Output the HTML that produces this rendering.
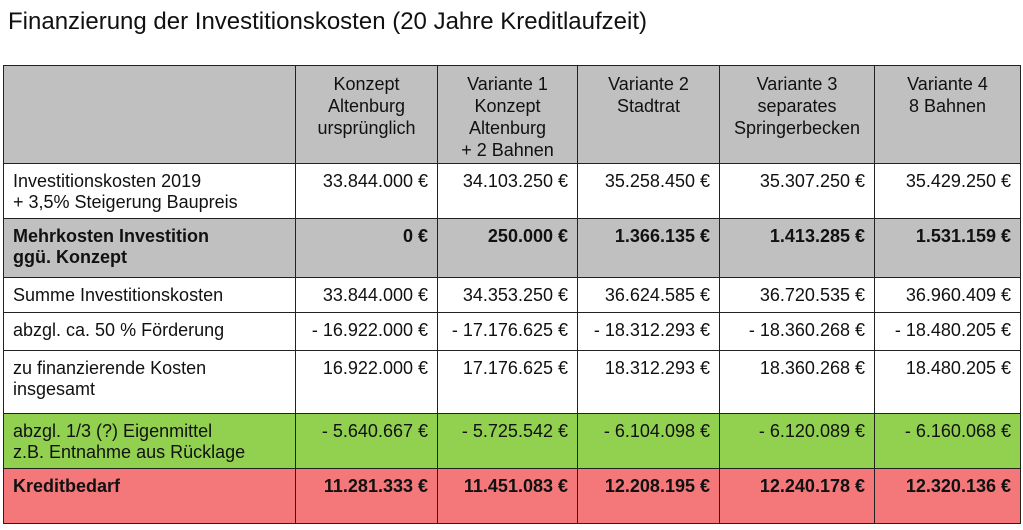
<!DOCTYPE html>
<html><head><meta charset="utf-8"><style>
body{margin:0;width:1023px;height:530px;background:#fff;font-family:"Liberation Sans",Arial,sans-serif;position:relative;overflow:hidden}
.t{position:absolute;left:8px;top:8px;font-size:24px;color:#111}
.c{position:absolute;box-sizing:border-box;border:1px solid #222;font-size:18px;line-height:21px;color:#111;padding:7px 9px 0 9px;white-space:nowrap}
.h{text-align:center;line-height:22px;padding-top:7px}
.r{text-align:right}
.b{font-weight:bold}
</style></head><body>
<div class="t">Finanzierung der Investitionskosten (20 Jahre Kreditlaufzeit)</div>
<div id="g"></div>
<script>
const cols=[3,295,437,577,719,874,1020];
const rows=[65,163,218,277,312,350,413,468,523];
const bg=['#c0c0c0','#fff','#c0c0c0','#fff','#fff','#fff','#92d050','#f4777a'];
const data=[
["","Konzept<br>Altenburg<br>ursprünglich","Variante 1<br>Konzept<br>Altenburg<br>+ 2 Bahnen","Variante 2<br>Stadtrat","Variante 3<br>separates<br>Springerbecken","Variante 4<br>8 Bahnen"],
["Investitionskosten 2019<br>+ 3,5% Steigerung Baupreis","33.844.000 €","34.103.250 €","35.258.450 €","35.307.250 €","35.429.250 €"],
["Mehrkosten Investition<br>ggü. Konzept","0 €","250.000 €","1.366.135 €","1.413.285 €","1.531.159 €"],
["Summe Investitionskosten","33.844.000 €","34.353.250 €","36.624.585 €","36.720.535 €","36.960.409 €"],
["abzgl. ca. 50 % Förderung","- 16.922.000 €","- 17.176.625 €","- 18.312.293 €","- 18.360.268 €","- 18.480.205 €"],
["zu finanzierende Kosten<br>insgesamt","16.922.000 €","17.176.625 €","18.312.293 €","18.360.268 €","18.480.205 €"],
["abzgl. 1/3 (?) Eigenmittel<br>z.B. Entnahme aus Rücklage","- 5.640.667 €","- 5.725.542 €","- 6.104.098 €","- 6.120.089 €","- 6.160.068 €"],
["Kreditbedarf","11.281.333 €","11.451.083 €","12.208.195 €","12.240.178 €","12.320.136 €"]];
let h='';
for(let r=0;r<8;r++)for(let c=0;c<6;c++){
 let cls='c'+(r==0?' h':(c>0?' r':''))+((r==2||r==7)?' b':'');
 h+=`<div class="${cls}" style="left:${cols[c]}px;top:${rows[r]}px;width:${cols[c+1]-cols[c]+1}px;height:${rows[r+1]-rows[r]+1}px;background:${bg[r]}">${data[r][c]}</div>`;
}
document.getElementById('g').innerHTML=h;
</script>
</body></html>
